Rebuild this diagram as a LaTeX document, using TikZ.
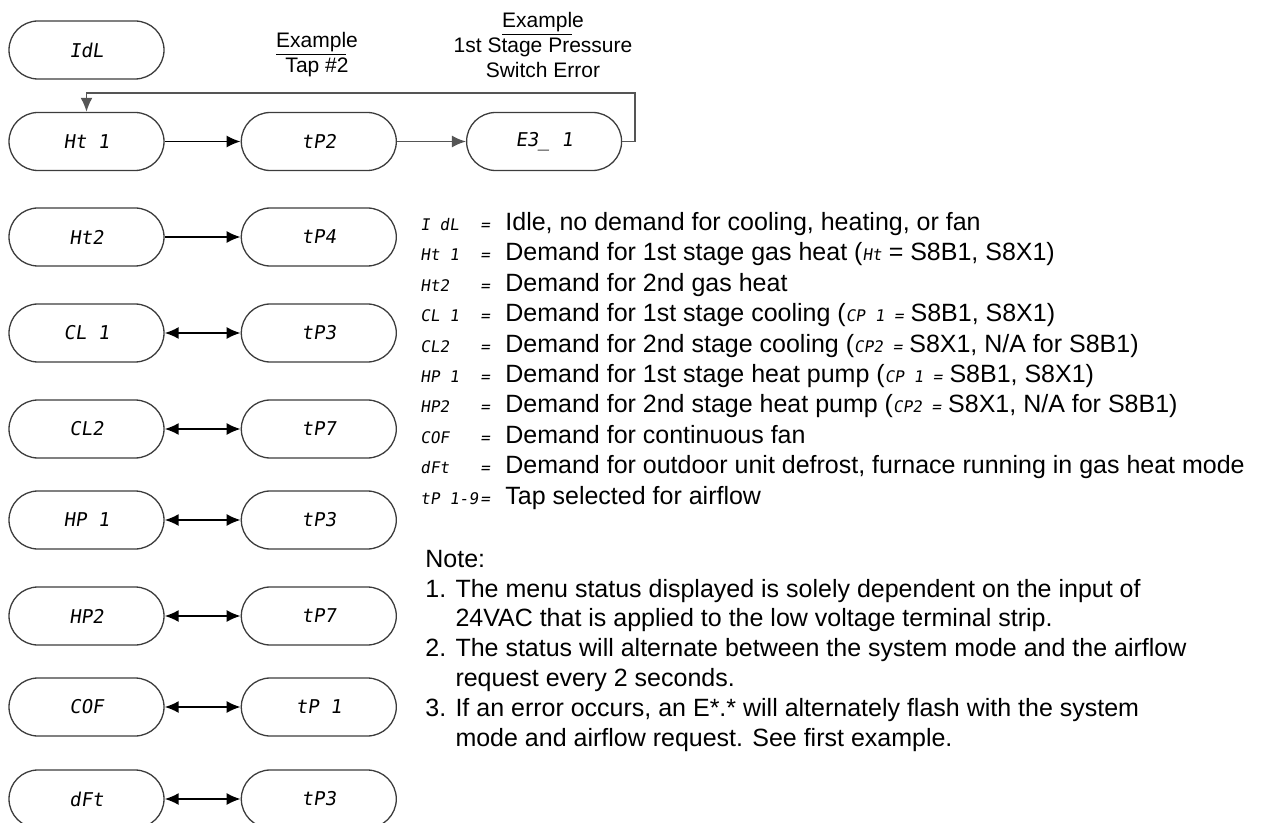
\documentclass[tikz,border=0pt]{standalone}
\usepackage{fontspec}
\setmainfont{Liberation Sans}
\newfontfamily\segfont[FakeSlant=0.15]{DejaVu Sans Mono}
\usetikzlibrary{arrows.meta,positioning}
\definecolor{rimC}{RGB}{60,60,60}
\definecolor{loopC}{RGB}{85,85,85}
\newcommand{\seg}[1]{{\segfont\fontsize{8}{10}\selectfont #1}}
\newcommand{\code}[1]{\makebox[30pt][l]{\seg{#1}}\makebox[12.5pt][l]{\seg{=}}}
\tikzset{
  disp/.style={rectangle, rounded corners=14.5pt, draw=rimC, line width=0.65pt,
               minimum width=77.5pt, minimum height=29pt, inner sep=0pt,
               font=\segfont\fontsize{9.5}{11}\selectfont},
  arr/.style={-{Latex[length=7pt,width=6pt]}, line width=0.9pt},
  dual/.style={{Latex[length=7pt,width=6pt]}-{Latex[length=7pt,width=6pt]}, line width=0.9pt},
  grayarr/.style={-{Latex[length=7pt,width=6pt]}, line width=0.9pt, draw=loopC},
  lbl/.style={align=center, font=\fontsize{10.5}{12.5}\selectfont},
}
\begin{document}
\begin{tikzpicture}[x=0.5pt, y=-0.5pt]
    \useasboundingbox (0,0) rectangle (1268,823);
    % display states
    \node[disp] (idl) at (86.5,50) {IdL};
    \node[disp] (ht1) at (86.5,141.5) {Ht 1};
    \node[disp, right=38pt of ht1] (tp2) {tP2};
    \node[disp, right=34.5pt of tp2] (e31) {E3\_ 1};
    \node[disp] (ht2) at (86.5,237) {Ht2};
    \node[disp, right=38pt of ht2] (tp4) {tP4};
    \node[disp] (cl1) at (86.5,333) {CL 1};
    \node[disp, right=38pt of cl1] (tp3a) {tP3};
    \node[disp] (cl2) at (86.5,429) {CL2};
    \node[disp, right=38pt of cl2] (tp7a) {tP7};
    \node[disp] (hp1) at (86.5,520) {HP 1};
    \node[disp, right=38pt of hp1] (tp3b) {tP3};
    \node[disp] (hp2) at (86.5,616) {HP2};
    \node[disp, right=38pt of hp2] (tp7b) {tP7};
    \node[disp] (cof) at (86.5,707) {COF};
    \node[disp, right=38pt of cof] (tp1) {tP 1};
    \node[disp] (dft) at (86.5,799) {dFt};
    \node[disp, right=38pt of dft] (tp3c) {tP3};
    % example captions
    \node[lbl] (tapnote) at (317,54.5) {\underline{Exampl}e\\Tap \#2};
    \node[lbl] (errnote) at (543,45) {\underline{Exampl}e\\1st Stage Pressure\\Switch Error};
    % connectors
    \draw[arr] (ht1) -- (tp2);
    \draw[grayarr] (tp2) -- (e31);
    \coordinate (back) at (635,93);
    \draw[grayarr] (e31.east) -| (back) -| (ht1.north);
    \draw[arr] (ht2) -- (tp4);
    \draw[dual] (cl1) -- (tp3a);
    \draw[dual] (cl2) -- (tp7a);
    \draw[dual] (hp1) -- (tp3b);
    \draw[dual] (hp2) -- (tp7b);
    \draw[dual] (cof) -- (tp1);
    \draw[dual] (dft) -- (tp3c);
    % legend and notes (base = last line)
    \node[anchor=base west, align=left, inner sep=0pt, font=\fontsize{12.5}{15.2}\selectfont] (legend) at (420,504)
      {\code{I dL}Idle, no demand for cooling, heating, or fan\\
       \code{Ht 1}Demand for 1st stage gas heat (\seg{Ht} = S8B1, S8X1)\\
       \code{Ht2}Demand for 2nd gas heat\\
       \code{CL 1}Demand for 1st stage cooling (\seg{CP 1 =} S8B1, S8X1)\\
       \code{CL2}Demand for 2nd stage cooling (\seg{CP2 =} S8X1, N/A for S8B1)\\
       \code{HP 1}Demand for 1st stage heat pump (\seg{CP 1 =} S8B1, S8X1)\\
       \code{HP2}Demand for 2nd stage heat pump (\seg{CP2 =} S8X1, N/A for S8B1)\\
       \code{COF}Demand for continuous fan\\
       \code{dFt}Demand for outdoor unit defrost, furnace running in gas heat mode\\
       \code{tP 1-9}Tap selected for airflow};
    \node[anchor=base west, align=left, inner sep=0pt, font=\fontsize{12.5}{14.9}\selectfont] (notes) at (425,746)
      {Note:\\
       1. The menu status displayed is solely dependent on the input of\\
       \hphantom{1. }24VAC that is applied to the low voltage terminal strip.\\
       2. The status will alternate between the system mode and the airflow\\
       \hphantom{2. }request every 2 seconds.\\
       3. If an error occurs, an E*.* will alternately flash with the system\\
       \hphantom{3. }mode and airflow request. See first example.};
\end{tikzpicture}
\end{document}
